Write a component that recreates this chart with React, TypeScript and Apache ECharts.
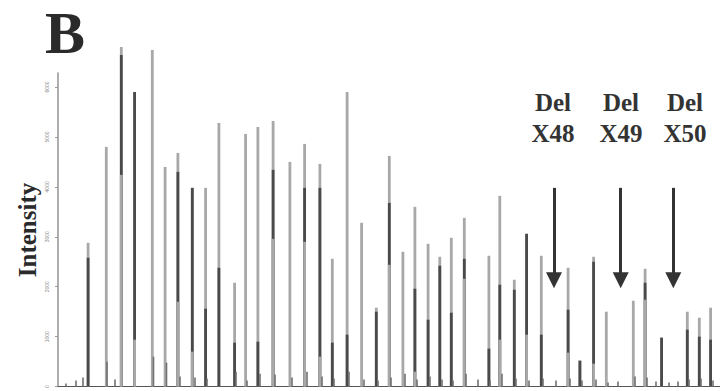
import React, { useEffect, useRef } from "react";
import * as echarts from "echarts";

// Peak positions (scan units) and intensities
const peakPos = [29.5, 47.7, 62.7, 76, 93.7, 106.5, 119.3, 133.7, 147, 160.3, 176, 187, 199.3, 214.5, 231.3, 246, 261.3, 273.7, 288.5, 303, 317.7, 330.7, 344.3, 356.3, 369.5, 381.2, 392.7, 405.7, 430.3, 441.2, 455.7, 468, 482.7, 509.5, 521.3, 535, 547.7, 574.7, 586.5, 603, 628.7, 640.7, 652];
const peakHeight = [2880, 4800, 6800, 5900, 6740, 4400, 4680, 3980, 3980, 5280, 2080, 5060, 5200, 5320, 4500, 4860, 4460, 2560, 5900, 3280, 1580, 4620, 2700, 3600, 2860, 2600, 2980, 3380, 2620, 3820, 2140, 3060, 2620, 2380, 520, 2600, 1500, 1720, 2360, 980, 1500, 1380, 1580];
// overlapping (darker) trace segment on each peak: top and bottom of the dark part (0/0 = none)
const darkTop = [2580, 0, 6640, 5900, 0, 0, 4300, 3980, 1560, 2380, 880, 0, 900, 4340, 0, 3980, 3980, 880, 1040, 0, 1500, 3680, 0, 1960, 1340, 2420, 1480, 2560, 760, 2040, 1940, 3060, 1040, 1540, 520, 2500, 0, 0, 2080, 980, 1140, 1000, 940];
const darkBottom = [0, 0, 4240, 940, 0, 0, 1700, 700, 0, 0, 0, 0, 0, 2960, 0, 2900, 600, 0, 0, 0, 0, 2440, 0, 300, 0, 0, 0, 2160, 0, 940, 0, 1040, 0, 680, 0, 460, 0, 0, 1740, 0, 0, 0, 0];

// small shoulder peaks near the baseline
const minorPos = [8, 18, 25, 49, 57, 95.5, 108.5, 122, 137, 149, 178, 189, 202, 217, 234, 249, 264, 276, 291, 306, 320, 333, 347, 359, 372, 384, 395, 408, 420, 432, 444, 458, 471, 485, 498, 512, 524, 538, 550, 560, 577, 589, 598, 611, 620, 631, 643, 655];
const minorHeight = [60, 120, 180, 500, 140, 600, 480, 200, 180, 160, 300, 120, 260, 240, 180, 300, 200, 160, 300, 140, 120, 180, 260, 140, 200, 140, 120, 260, 140, 120, 260, 160, 120, 160, 120, 160, 120, 140, 80, 100, 200, 180, 100, 80, 100, 140, 160, 120];

const yTicks = [0, 1000, 2000, 3000, 4000, 5000, 6000];

const arrowPos = [496, 562.7, 615.3];
const arrowLabels = ["X48", "X49", "X50"];
const arrowStart = 3980;
const arrowEnd = 2130;

export default function App() {
  const ref = useRef<HTMLDivElement>(null);
  useEffect(() => {
    if (!ref.current) return;
    const chart = echarts.init(ref.current, null, { renderer: "svg" });
    const hasDark = (i: number) => darkTop[i] > 0;
    // three overlapping bars per peak, drawn in order: full light, dark up to darkTop, light up to darkBottom
    const full = peakPos.map((x, i) => [x, peakHeight[i]]);
    const dark = peakPos.map((x, i) => [x, hasDark(i) ? darkTop[i] : 0]);
    const lower = peakPos.map((x, i) => [x, hasDark(i) ? darkBottom[i] : 0]);
    const minor = minorPos.map((x, i) => [x, minorHeight[i]]);
    const barCommon = {
      type: "bar" as const,
      barWidth: 2.8,
      barGap: "-100%",
      clip: false,
      silent: true,
    };
    const serif = "'Liberation Serif', 'DejaVu Serif', serif";
    chart.setOption({
      animation: false,
      grid: { left: 58, right: 0, top: 73, bottom: 4, containLabel: false },
      xAxis: {
        type: "value",
        min: 0,
        max: 662,
        axisLine: { show: true, onZero: false, lineStyle: { color: "#555", width: 1.2 } },
        axisTick: { show: false },
        axisLabel: { show: false },
        splitLine: { show: false },
      },
      yAxis: {
        type: "value",
        min: 0,
        max: 6280,
        interval: 1000,
        axisLine: { show: true, lineStyle: { color: "#9a9a9a", width: 1.6 } },
        axisTick: { show: true, length: 3, lineStyle: { color: "#999" } },
        axisLabel: {
          show: true,
          rotate: 90,
          fontSize: 5,
          color: "#888",
          margin: 9,
          showMaxLabel: false,
          formatter: (v: number) => (yTicks.includes(v) ? String(v) : ""),
        },
        splitLine: { show: false },
      },
      series: [
        { ...barCommon, name: "full", data: full, itemStyle: { color: "#a8a8a8" } },
        { ...barCommon, name: "dark", data: dark, itemStyle: { color: "#4a4a4a" } },
        { ...barCommon, name: "lower", data: lower, itemStyle: { color: "#a8a8a8" } },
        { ...barCommon, name: "minor", data: minor, barWidth: 1.6, itemStyle: { color: "#707070" } },
        {
          type: "line",
          name: "arrows",
          data: [],
          silent: true,
          markLine: {
            silent: true,
            animation: false,
            symbol: ["none", "triangle"],
            symbolSize: 16,
            label: { show: false },
            lineStyle: { color: "#333", width: 3, type: "solid" },
            data: arrowPos.map((x) => [
              { coord: [x, arrowStart] },
              { coord: [x, arrowEnd] },
            ]),
          },
        },
      ],
      graphic: [
        {
          type: "text",
          x: 65,
          y: 33,
          style: {
            text: "B",
            font: `bold 60px ${serif}`,
            fill: "#2a2a2a",
            textAlign: "center",
            textVerticalAlign: "middle",
          },
        },
        {
          type: "text",
          x: 27,
          y: 230,
          rotation: Math.PI / 2,
          style: {
            text: "Intensity",
            font: `bold 25px ${serif}`,
            fill: "#2a2a2a",
            textAlign: "center",
            textVerticalAlign: "middle",
          },
        },
        ...arrowLabels.flatMap((lab, i) => {
          const cx = [553, 621, 685][i];
          return [
            {
              type: "text",
              x: cx,
              y: 102,
              style: { text: "Del", font: `bold 25px ${serif}`, fill: "#333", textAlign: "center", textVerticalAlign: "middle" },
            },
            {
              type: "text",
              x: cx,
              y: 133,
              style: { text: lab, font: `bold 25px ${serif}`, fill: "#333", textAlign: "center", textVerticalAlign: "middle" },
            },
          ];
        }),
      ],
    });
    return () => chart.dispose();
  }, []);
  return (
    <div
      ref={ref}
      style={{ position: "fixed", left: 0, top: 0, width: 720, height: 391, background: "#fff" }}
    />
  );
}
